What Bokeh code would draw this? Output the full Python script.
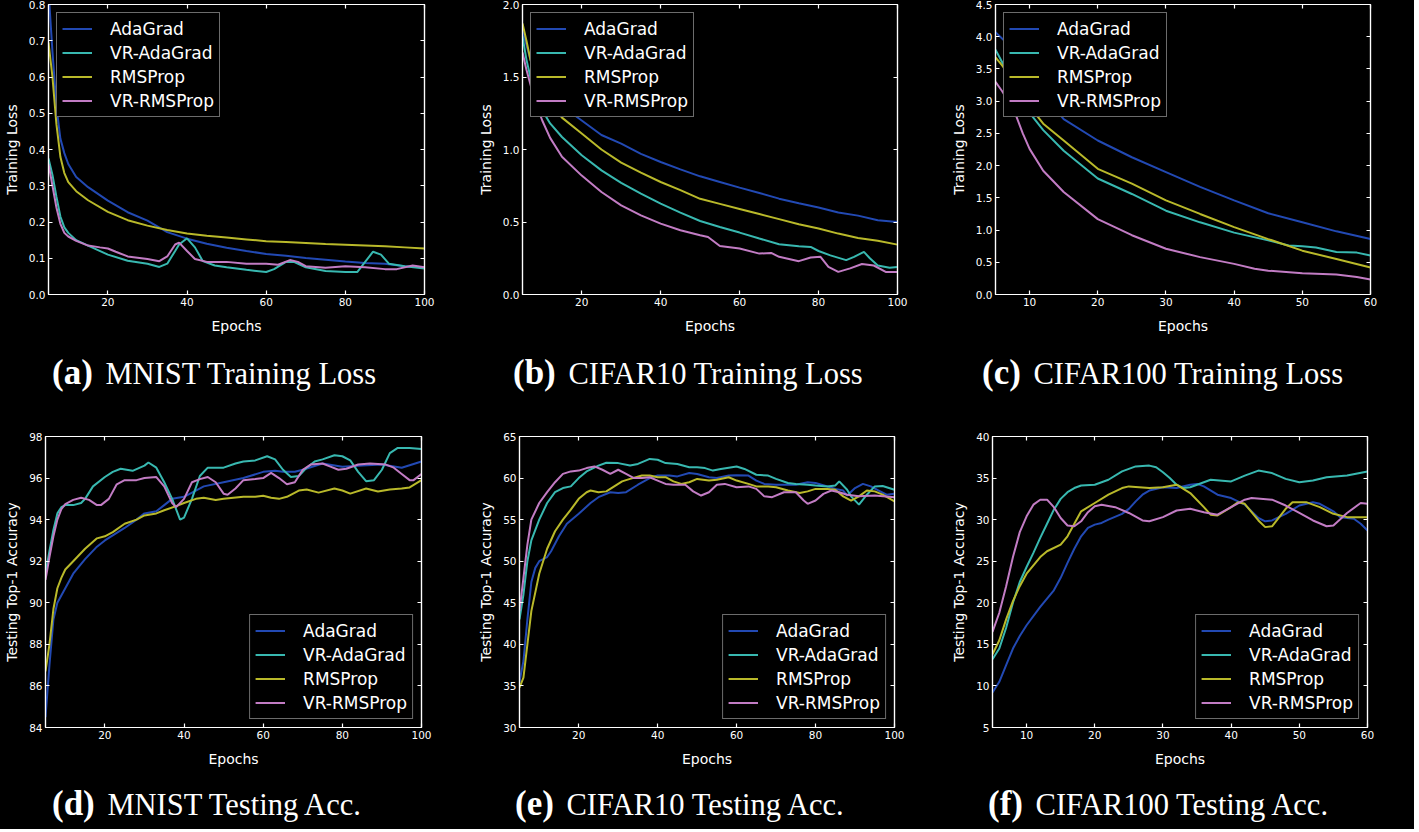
import re
from bokeh.plotting import figure
from bokeh.models import LinearAxis, FixedTicker, PrintfTickFormatter, Div, Range1d
from bokeh.layouts import column, row
from bokeh.embed import file_html
from bokeh.resources import INLINE

SERIES = ["AdaGrad", "VR-AdaGrad", "RMSProp", "VR-RMSProp"]
COLORS = ["#2249b3", "#38b8b0", "#b9b92a", "#c27cc4"]

# (a) MNIST training loss
a_ada_x = [5, 6, 7, 8, 9, 10, 12, 15, 20, 25, 30, 35, 40, 45, 50, 55, 60, 65, 70, 75, 80, 85, 90, 95, 100]
a_ada_y = [0.84, 0.67, 0.52, 0.43, 0.39, 0.36, 0.324, 0.296, 0.259, 0.227, 0.204, 0.172, 0.154, 0.14, 0.129, 0.12, 0.112, 0.107, 0.101, 0.096, 0.091, 0.087, 0.085, 0.078, 0.075]
a_vrada_x = [5, 6, 7, 8, 9, 10, 12, 15, 20, 25, 30, 33, 35, 37, 38, 40, 42, 44, 47, 50, 55, 60, 62, 65, 67, 70, 75, 80, 83, 85, 87, 89, 91, 95, 100]
a_vrada_y = [0.375, 0.33, 0.27, 0.215, 0.185, 0.17, 0.15, 0.135, 0.11, 0.093, 0.085, 0.076, 0.085, 0.12, 0.138, 0.155, 0.13, 0.092, 0.08, 0.075, 0.068, 0.062, 0.07, 0.09, 0.09, 0.075, 0.065, 0.062, 0.062, 0.09, 0.118, 0.11, 0.085, 0.078, 0.072]
a_rms_x = [5, 6, 7, 8, 9, 10, 12, 15, 20, 25, 30, 35, 40, 45, 50, 55, 60, 65, 70, 75, 80, 85, 90, 95, 100]
a_rms_y = [0.695, 0.6, 0.47, 0.38, 0.335, 0.31, 0.285, 0.26, 0.228, 0.205, 0.19, 0.178, 0.168, 0.162, 0.157, 0.152, 0.147, 0.145, 0.142, 0.139, 0.137, 0.135, 0.133, 0.13, 0.127]
a_vrrms_x = [5, 6, 7, 8, 9, 10, 12, 15, 18, 20, 22, 25, 30, 33, 35, 37, 38, 40, 42, 45, 50, 55, 60, 63, 66, 68, 70, 75, 80, 85, 90, 93, 97, 100]
a_vrrms_y = [0.36, 0.3, 0.24, 0.195, 0.17, 0.16, 0.148, 0.135, 0.13, 0.127, 0.118, 0.105, 0.098, 0.092, 0.105, 0.138, 0.143, 0.12, 0.098, 0.09, 0.09, 0.085, 0.085, 0.082, 0.095, 0.09, 0.078, 0.074, 0.078, 0.075, 0.07, 0.07, 0.08, 0.075]

# (b) CIFAR10 training loss
b_ada_x = [5, 6, 7, 8, 10, 12, 15, 20, 25, 30, 35, 40, 45, 50, 55, 60, 65, 70, 75, 80, 85, 90, 95, 100]
b_ada_y = [1.82, 1.72, 1.62, 1.55, 1.45, 1.38, 1.3, 1.2, 1.1, 1.04, 0.97, 0.914, 0.863, 0.815, 0.776, 0.737, 0.70, 0.661, 0.63, 0.60, 0.565, 0.544, 0.512, 0.50]
b_vrada_x = [5, 6, 7, 8, 10, 12, 15, 20, 25, 30, 35, 40, 45, 50, 55, 60, 65, 70, 75, 78, 80, 83, 87, 89, 91.5, 93, 95, 98, 100]
b_vrada_y = [1.78, 1.62, 1.5, 1.42, 1.27, 1.18, 1.086, 0.96, 0.856, 0.77, 0.696, 0.627, 0.565, 0.507, 0.466, 0.427, 0.386, 0.347, 0.333, 0.328, 0.30, 0.27, 0.237, 0.26, 0.294, 0.25, 0.2, 0.184, 0.19]
b_rms_x = [5, 6, 7, 8, 10, 12, 15, 20, 25, 30, 35, 40, 45, 50, 55, 60, 65, 70, 75, 80, 85, 90, 95, 100]
b_rms_y = [1.87, 1.75, 1.62, 1.52, 1.42, 1.32, 1.22, 1.11, 1.0, 0.91, 0.84, 0.776, 0.72, 0.66, 0.625, 0.59, 0.555, 0.52, 0.485, 0.455, 0.42, 0.39, 0.37, 0.344]
b_vrrms_x = [5, 6, 7, 8, 10, 12, 15, 20, 25, 30, 35, 40, 45, 50, 52, 55, 60, 65, 68, 70, 75, 78, 80.5, 82.5, 85, 88, 91, 94, 97, 100]
b_vrrms_y = [1.67, 1.55, 1.45, 1.35, 1.2, 1.08, 0.95, 0.82, 0.707, 0.615, 0.546, 0.489, 0.443, 0.409, 0.397, 0.335, 0.317, 0.282, 0.287, 0.26, 0.23, 0.255, 0.26, 0.19, 0.156, 0.18, 0.21, 0.20, 0.156, 0.156]

# (c) CIFAR100 training loss
c_ada_x = [5, 6, 7, 8, 10, 12, 15, 20, 25, 30, 35, 40, 45, 50, 55, 60]
c_ada_y = [4.07, 3.97, 3.85, 3.72, 3.42, 3.1, 2.72, 2.39, 2.13, 1.9, 1.67, 1.46, 1.26, 1.12, 0.98, 0.86]
c_vrada_x = [5, 6, 7, 8, 9, 10, 12, 15, 20, 25, 30, 35, 40, 45, 48, 50, 52, 55, 58, 60]
c_vrada_y = [3.8, 3.6, 3.4, 3.2, 3.0, 2.82, 2.55, 2.23, 1.8, 1.56, 1.3, 1.12, 0.96, 0.84, 0.76, 0.75, 0.73, 0.66, 0.65, 0.605]
c_rms_x = [5, 6, 7, 8, 10, 12, 15, 20, 25, 30, 35, 40, 45, 50, 55, 60]
c_rms_y = [3.68, 3.55, 3.4, 3.25, 2.92, 2.65, 2.39, 1.95, 1.72, 1.46, 1.25, 1.045, 0.86, 0.68, 0.55, 0.42]
c_vrrms_x = [5, 6, 7, 8, 9, 10, 12, 15, 20, 25, 30, 35, 40, 43, 45, 50, 55, 58, 60]
c_vrrms_y = [3.3, 3.15, 2.98, 2.78, 2.5, 2.26, 1.92, 1.59, 1.17, 0.92, 0.71, 0.58, 0.475, 0.4, 0.37, 0.33, 0.31, 0.27, 0.233]

# (d) MNIST testing accuracy
d_ada_x = [5, 6, 7, 8, 10, 12, 15, 18, 20, 25, 28, 30, 33, 35, 37, 40, 45, 50, 55, 60, 63, 65, 68, 70, 75, 80, 85, 90, 95, 100]
d_ada_y = [84.5, 87, 89.2, 90, 90.7, 91.4, 92.1, 92.7, 93.0, 93.6, 94.0, 94.3, 94.4, 94.7, 95.0, 95.1, 95.6, 95.8, 96.0, 96.3, 96.35, 96.3, 96.3, 96.4, 96.7, 96.55, 96.6, 96.65, 96.5, 96.8]
d_vrada_x = [5, 6, 7, 8, 9, 10, 12, 14, 15, 17, 20, 22, 24, 27, 30, 31, 33, 35, 37, 39, 40, 42, 44, 46, 48, 50, 53, 55, 58, 61, 63, 65, 67, 69, 71, 73, 75, 78, 80, 82, 84, 86, 88, 90, 92, 94, 97, 100]
d_vrada_y = [91.4, 92.5, 93.5, 94.3, 94.6, 94.7, 94.7, 94.8, 95.0, 95.6, 96.05, 96.3, 96.45, 96.35, 96.6, 96.75, 96.5, 95.8, 95.0, 94.0, 94.1, 95.0, 96.1, 96.5, 96.5, 96.5, 96.7, 96.8, 96.85, 97.05, 96.9, 96.4, 96.05, 96.1, 96.5, 96.8, 96.9, 97.1, 97.05, 96.85, 96.3, 95.85, 95.9, 96.4, 97.2, 97.45, 97.45, 97.4]
d_rms_x = [5, 6, 7, 8, 9, 10, 12, 15, 18, 20, 22, 25, 28, 30, 33, 35, 38, 40, 43, 45, 48, 50, 55, 58, 60, 62, 64, 66, 69, 71, 74, 78, 80, 82, 86, 89, 92, 95, 97, 100]
d_rms_y = [86.7, 88.0, 89.7, 90.7, 91.2, 91.6, 92.0, 92.6, 93.1, 93.2, 93.4, 93.8, 94.0, 94.2, 94.3, 94.45, 94.65, 94.8, 95.0, 95.05, 94.95, 95.0, 95.1, 95.1, 95.15, 95.05, 95.0, 95.1, 95.4, 95.45, 95.3, 95.5, 95.4, 95.25, 95.5, 95.35, 95.45, 95.5, 95.55, 95.9]
d_vrrms_x = [5, 6, 7, 8, 9, 10, 12, 14, 16, 18, 19, 21, 23, 25, 28, 30, 33, 35, 37, 38, 40, 42, 44, 46, 48, 50, 51, 53, 55, 58, 60, 62, 64, 66, 68, 70, 72, 75, 77, 79, 81, 84, 87, 91, 93, 95, 97, 98, 100]
d_vrrms_y = [91.1, 92.2, 93.2, 94.0, 94.5, 94.75, 94.95, 95.05, 94.95, 94.7, 94.7, 95.0, 95.7, 95.9, 95.9, 96.0, 96.05, 95.6, 94.8, 94.6, 95.0, 95.8, 95.95, 96.05, 95.8, 95.25, 95.2, 95.5, 95.9, 95.95, 96.0, 96.25, 96.0, 95.7, 95.8, 96.4, 96.65, 96.7, 96.55, 96.4, 96.45, 96.65, 96.7, 96.65, 96.5, 96.2, 95.9, 95.9, 96.2]

# (e) CIFAR10 testing accuracy
e_ada_x = [5, 6, 7, 8, 9, 10, 12, 13, 15, 17, 20, 23, 25, 28, 30, 32, 35, 38, 40, 43, 45, 48, 50, 53, 55, 58, 60, 63, 65, 67, 70, 75, 78, 80, 83, 85, 87, 88, 90, 92, 94, 96, 98, 100]
e_ada_y = [35.5, 38, 43, 47.5, 49.2, 50, 50.5, 51.2, 53, 54.5, 55.7, 57, 57.7, 58.3, 58.2, 58.3, 59.2, 60, 60.3, 60.3, 60.2, 60.6, 60.5, 60.1, 60, 60.3, 60.35, 60.3, 59.7, 59.3, 59.2, 59.2, 59.5, 59.4, 59.0, 58.7, 58.5, 57.9, 58.8, 59.3, 59.0, 58.5, 58.0, 58.1]
e_vrada_x = [5, 6, 7, 8, 10, 12, 14, 16, 18, 20, 22, 25, 27, 30, 33, 35, 38, 40, 42, 45, 48, 50, 52, 54, 56, 60, 62, 65, 68, 70, 73, 75, 78, 80, 83, 85, 86, 88, 89, 91, 93, 95, 97, 100]
e_vrada_y = [43, 46, 50, 52.5, 55, 57, 58.3, 58.8, 59, 60, 60.8, 61.5, 61.85, 61.8, 61.5, 61.7, 62.3, 62.2, 61.8, 61.7, 61.3, 61.3, 61.2, 60.9, 61.1, 61.4, 61.1, 60.4, 60.3, 59.9, 59.4, 59.3, 59.2, 59.1, 59.0, 59.1, 59.6, 58.6, 57.8, 56.8, 58, 59, 59.05, 58.6]
e_rms_x = [5, 6, 7, 8, 10, 12, 14, 16, 18, 20, 22, 23, 25, 27, 29, 31, 33, 36, 38, 40, 42, 44, 46, 48, 50, 53, 55, 58, 60, 63, 65, 68, 70, 73, 76, 78, 80, 83, 85, 87, 89, 91, 93, 95, 97, 100]
e_rms_y = [34.8, 36, 40, 44, 48.5, 51.5, 53.6, 55, 56.2, 57.5, 58.3, 58.5, 58.3, 58.4, 59, 59.6, 59.9, 60.3, 60.3, 60.1, 60.1, 59.6, 59.3, 59.5, 59.9, 59.7, 59.8, 60.1, 59.7, 59.3, 59.0, 59.0, 58.9, 58.5, 58.2, 58.4, 58.7, 58.7, 58.6, 57.8, 57.3, 57.8, 58.5, 58.4, 58.0, 57.2]
e_vrrms_x = [5, 6, 7, 8, 10, 12, 14, 16, 18, 20, 22, 24, 26, 28, 30, 32, 34, 36, 38, 40, 42, 44, 47, 49, 51, 53, 55, 57, 60, 63, 65, 67, 69, 72, 75, 77, 78, 80, 82, 84, 86, 88, 91, 95, 100]
e_vrrms_y = [44, 48, 52, 55, 57, 58.3, 59.5, 60.5, 60.8, 60.9, 61.2, 61.4, 61, 60.5, 61, 60.5, 60, 60, 60.1, 59.7, 59.3, 59.2, 59.2, 58.4, 57.9, 58.3, 59.2, 59.3, 58.9, 59, 58.7, 57.8, 57.7, 58.3, 58.3, 57.3, 56.9, 57.3, 58.1, 58.5, 58.3, 58.0, 57.8, 57.9, 57.7]

# (f) CIFAR100 testing accuracy
f_ada_x = [5, 6, 7, 8, 9, 10, 12, 14, 15, 16, 17, 18, 19, 20, 21, 22, 24, 25, 26, 27, 28, 30, 32, 34, 35, 36, 38, 40, 42, 44, 45, 46, 48, 50, 52, 53, 55, 56, 58, 59, 60]
f_ada_y = [9.2, 10.5, 12.5, 14.5, 16, 17.3, 19.5, 21.5, 23, 24.8, 26.5, 28, 29, 29.4, 29.6, 30, 30.7, 31.3, 32.2, 33, 33.5, 33.9, 33.8, 34.2, 34.3, 34, 33, 32.6, 31.8, 30.2, 29.8, 29.9, 30.7, 31.7, 32.1, 31.9, 31, 30.3, 30.1, 29.5, 28.7]
f_vrada_x = [5, 6, 7, 8, 9, 10, 11, 12, 13, 14, 15, 16, 17, 18, 20, 22, 24, 26, 28, 29, 30, 31, 32, 33, 34, 36, 37, 40, 42, 44, 46, 48, 50, 52, 54, 57, 60]
f_vrada_y = [13.2, 14.5, 17, 20, 22.5, 24.3, 26, 27.8, 29.5, 31.2, 32.5, 33.3, 33.8, 34.1, 34.2, 34.8, 35.8, 36.4, 36.5, 36.3, 35.7, 35.0, 34.2, 33.8, 33.9, 34.5, 34.8, 34.6, 35.3, 35.9, 35.6, 34.9, 34.5, 34.7, 35.1, 35.3, 35.8]
f_rms_x = [5, 6, 7, 8, 9, 10, 12, 13, 15, 16, 17, 18, 20, 22, 24, 25, 28, 30, 32, 34, 36, 37, 38, 40, 41, 42, 44, 45, 46, 48, 49, 51, 53, 55, 57, 60]
f_rms_y = [13.8, 15.5, 18, 20.2, 22, 23.5, 25.5, 26.2, 27, 28, 29.5, 31, 32, 33, 33.8, 34, 33.8, 33.9, 34.2, 33.2, 31.5, 30.6, 30.5, 31.5, 32.1, 31.9, 29.9, 29.1, 29.2, 31.3, 32.1, 32.1, 31.5, 30.7, 30.3, 30.3]
f_vrrms_x = [5, 6, 7, 8, 9, 10, 11, 12, 13, 14, 15, 16, 17, 18, 19, 20, 21, 23, 25, 27, 28, 30, 32, 34, 36, 38, 40, 42, 43, 46, 48, 50, 52, 54, 55, 57, 59, 60]
f_vrrms_y = [16.5, 18.8, 22, 25.5, 28.5, 30.4, 31.8, 32.4, 32.4, 31.5, 30.2, 29.3, 29.2, 29.8, 30.9, 31.6, 31.8, 31.5, 30.8, 29.9, 29.8, 30.3, 31.1, 31.3, 30.9, 30.6, 31.5, 32.4, 32.6, 32.4, 31.7, 30.8, 29.9, 29.2, 29.3, 30.8, 32.0, 31.9]

X100_TICKS = [20, 40, 60, 80, 100]
X60_TICKS = [10, 20, 30, 40, 50, 60]
a_yticks = [0.0, 0.1, 0.2, 0.3, 0.4, 0.5, 0.6, 0.7, 0.8]
b_yticks = [0.0, 0.5, 1.0, 1.5, 2.0]
c_yticks = [0.0, 0.5, 1.0, 1.5, 2.0, 2.5, 3.0, 3.5, 4.0, 4.5]
d_yticks = [84, 86, 88, 90, 92, 94, 96, 98]
e_yticks = [30, 35, 40, 45, 50, 55, 60, 65]
f_yticks = [5, 10, 15, 20, 25, 30, 35, 40]

captions = [("(a)", "MNIST Training Loss"), ("(b)", "CIFAR10 Training Loss"), ("(c)", "CIFAR100 Training Loss"),
            ("(d)", "MNIST Testing Acc."), ("(e)", "CIFAR10 Testing Acc."), ("(f)", "CIFAR100 Testing Acc.")]


def style_axis(ax, ticks, fmt, show_labels):
    ax.ticker = FixedTicker(ticks=ticks)
    ax.formatter = PrintfTickFormatter(format=fmt)
    ax.axis_line_color = "white"
    ax.axis_line_width = 1.2
    ax.major_tick_line_color = "white"
    ax.major_tick_line_width = 1.2
    ax.major_tick_in = 4
    ax.major_tick_out = 0
    ax.minor_tick_line_color = None
    if show_labels:
        ax.major_label_text_color = "white"
        ax.major_label_text_font = "DejaVu Sans"
        ax.major_label_text_font_size = "10.5px"
        ax.major_label_standoff = 3
    else:
        ax.major_label_text_font_size = "0px"
        ax.major_label_text_alpha = 0
        ax.major_label_standoff = 0
    ax.axis_label_text_color = "white"
    ax.axis_label_text_font = "DejaVu Sans"
    ax.axis_label_text_font_size = "14px"
    ax.axis_label_text_font_style = "normal"


def panel(series, xr, yr, xticks, yticks, yfmt, ylabel, legend_loc, left, fw, right, top, fh, bottom):
    p = figure(frame_width=fw, frame_height=fh, x_range=Range1d(*xr), y_range=Range1d(*yr),
               output_backend="svg", toolbar_location=None,
               min_border_left=left, min_border_right=right, min_border_top=top, min_border_bottom=bottom)
    p.background_fill_color = "black"
    p.border_fill_color = "black"
    p.outline_line_color = "white"
    p.outline_line_width = 1.2
    p.xgrid.visible = False
    p.ygrid.visible = False
    for (xs, ys), name, col in zip(series, SERIES, COLORS):
        p.line(xs, ys, line_color=col, line_width=2, legend_label=name)
    style_axis(p.xaxis[0], xticks, "%d", True)
    style_axis(p.yaxis[0], yticks, yfmt, True)
    p.xaxis[0].axis_label = "Epochs"
    p.xaxis[0].axis_label_standoff = 9
    p.yaxis[0].axis_label = ylabel
    p.yaxis[0].axis_label_standoff = 6
    top_ax = LinearAxis()
    style_axis(top_ax, xticks, "%d", False)
    p.add_layout(top_ax, "above")
    right_ax = LinearAxis()
    style_axis(right_ax, yticks, yfmt, False)
    p.add_layout(right_ax, "right")
    lg = p.legend[0]
    lg.location = legend_loc
    lg.margin = 8
    lg.padding = 5
    lg.spacing = 3
    lg.glyph_width = 30
    lg.glyph_height = 21
    lg.label_height = 21
    lg.label_standoff = 18
    lg.label_text_color = "white"
    lg.label_text_font = "DejaVu Sans"
    lg.label_text_font_size = "17px"
    lg.background_fill_color = "black"
    lg.background_fill_alpha = 1.0
    lg.border_line_color = "#d8d8d8"
    lg.border_line_width = 1.5
    return p


def caption(idx, width, height, pad_left, pad_top):
    lab, txt = captions[idx]
    html = (f'<div style="padding-left:{pad_left}px;padding-top:{pad_top}px;color:white;'
            f'font-family:\'Liberation Serif\';font-size:30.5px;line-height:34px;white-space:nowrap;">'
            f'<span style="font-weight:bold;font-size:35px;margin-right:5px;">{lab}</span> {txt}</div>')
    return Div(text=html, width=width, height=height, margin=0)


pa = panel([(a_ada_x, a_ada_y), (a_vrada_x, a_vrada_y), (a_rms_x, a_rms_y), (a_vrrms_x, a_vrrms_y)],
           (5, 100), (0, 0.8), X100_TICKS, a_yticks, "%.1f", "Training Loss", "top_left", 45, 376, 49, 4, 290, 44)
pb = panel([(b_ada_x, b_ada_y), (b_vrada_x, b_vrada_y), (b_rms_x, b_rms_y), (b_vrrms_x, b_vrrms_y)],
           (5, 100), (0, 2.0), X100_TICKS, b_yticks, "%.1f", "Training Loss", "top_left", 49, 375, 46, 4, 290, 44)
pc = panel([(c_ada_x, c_ada_y), (c_vrada_x, c_vrada_y), (c_rms_x, c_rms_y), (c_vrrms_x, c_vrrms_y)],
           (5, 60), (0, 4.5), X60_TICKS, c_yticks, "%.1f", "Training Loss", "top_left", 52, 375, 44, 4, 290, 44)
pd_ = panel([(d_ada_x, d_ada_y), (d_vrada_x, d_vrada_y), (d_rms_x, d_rms_y), (d_vrrms_x, d_vrrms_y)],
            (5, 100), (84, 98), X100_TICKS, d_yticks, "%d", "Testing Top-1 Accuracy", "bottom_right", 45, 376, 49, 4, 291, 44)
pe = panel([(e_ada_x, e_ada_y), (e_vrada_x, e_vrada_y), (e_rms_x, e_rms_y), (e_vrrms_x, e_vrrms_y)],
           (5, 100), (30, 65), X100_TICKS, e_yticks, "%d", "Testing Top-1 Accuracy", "bottom_right", 49, 375, 46, 4, 291, 44)
pf = panel([(f_ada_x, f_ada_y), (f_vrada_x, f_vrada_y), (f_rms_x, f_rms_y), (f_vrrms_x, f_vrrms_y)],
           (5, 60), (5, 40), X60_TICKS, f_yticks, "%d", "Testing Top-1 Accuracy", "bottom_right", 52, 375, 44, 4, 291, 44)

top_row = row(column(pa, caption(0, 470, 94, 52, 18), spacing=0),
              column(pb, caption(1, 470, 94, 40, 18), spacing=0),
              column(pc, caption(2, 471, 94, 39, 18), spacing=0), spacing=0)
bot_row = row(column(pd_, caption(3, 470, 58, 52, 16), spacing=0),
              column(pe, caption(4, 470, 58, 45, 16), spacing=0),
              column(pf, caption(5, 471, 58, 48, 16), spacing=0), spacing=0)
layout = column(top_row, bot_row, spacing=0)
layout.styles = {"background-color": "black"}

html = file_html(layout, INLINE, title="Optimizers")
html = re.sub(r"<body([^>]*)>", r'<body\1 style="margin:0;background:#000000;">', html, count=1)
open("out.html", "w").write(html)
